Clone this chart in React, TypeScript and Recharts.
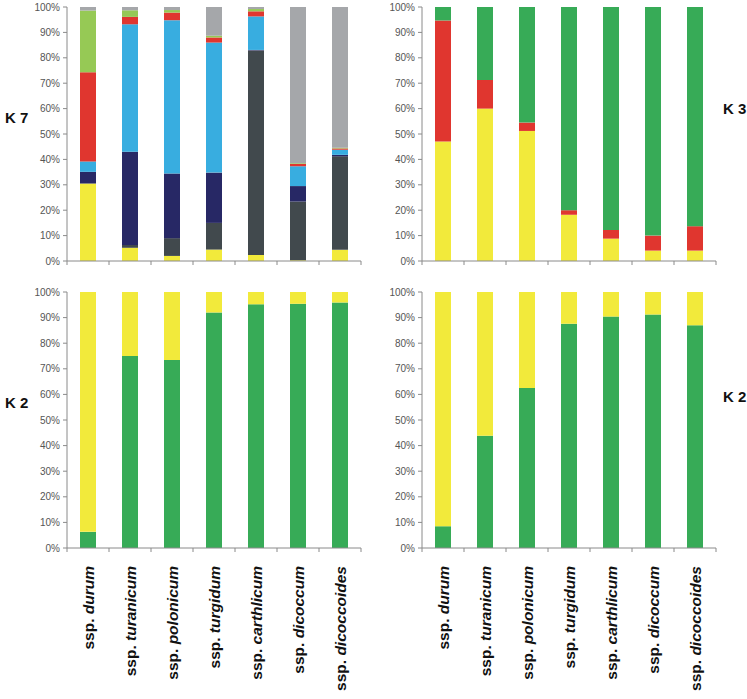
// App.tsx

import { BarChart, Bar, XAxis, YAxis } from "recharts";

const categories = [
  "durum",
  "turanicum",
  "polonicum",
  "turgidum",
  "carthlicum",
  "dicoccum",
  "dicoccoides",
];

const yTicks = [0, 10, 20, 30, 40, 50, 60, 70, 80, 90, 100];

// K 7 segments (share of each bar, bottom to top)
const k7Yellow = [30.5, 5.2, 2.0, 4.5, 2.4, 0.3, 4.4];
const k7Charcoal = [0, 1.1, 7.0, 10.5, 80.5, 23.1, 36.8];
const k7Navy = [4.6, 36.7, 25.4, 19.8, 0.2, 6.1, 0.6];
const k7Blue = [4.1, 50.2, 60.4, 51.2, 13.2, 7.8, 2.0];
const k7Red = [35.1, 2.9, 3.0, 2.0, 2.0, 0.9, 0.5];
const k7Lime = [24.3, 2.6, 1.0, 0.7, 0.9, 0.3, 0.3];
const k7Gray = [1.4, 1.3, 1.2, 11.3, 0.8, 61.5, 55.4];

// K 3
const k3Yellow = [47.0, 60.0, 51.2, 18.2, 8.8, 4.1, 4.1];
const k3Red = [47.7, 11.3, 3.3, 1.8, 3.4, 5.9, 9.6];
const k3Green = [5.3, 28.7, 45.5, 80.0, 87.8, 90.0, 86.3];

// K 2 (left and right)
const k2aGreen = [6.3, 75.0, 73.4, 92.0, 95.2, 95.4, 95.9];
const k2aYellow = [93.7, 25.0, 26.6, 8.0, 4.8, 4.6, 4.1];
const k2bGreen = [8.5, 43.8, 62.5, 87.6, 90.4, 91.2, 87.0];
const k2bYellow = [91.5, 56.2, 37.5, 12.4, 9.6, 8.8, 13.0];

const C = {
  yellow: "#f2ea3b",
  charcoal: "#41494d",
  navy: "#272865",
  blue: "#38ade0",
  red: "#e0362f",
  lime: "#96c955",
  gray: "#a5a7aa",
  green: "#37ab57",
};

const AXIS = "#8a8a8a";
const FONT = "'Liberation Sans', Arial, sans-serif";

type Series = { key: string; values: number[]; color: string };

const k7Series: Series[] = [
  { key: "yellow", values: k7Yellow, color: C.yellow },
  { key: "charcoal", values: k7Charcoal, color: C.charcoal },
  { key: "navy", values: k7Navy, color: C.navy },
  { key: "blue", values: k7Blue, color: C.blue },
  { key: "red", values: k7Red, color: C.red },
  { key: "lime", values: k7Lime, color: C.lime },
  { key: "gray", values: k7Gray, color: C.gray },
];
const k3Series: Series[] = [
  { key: "yellow", values: k3Yellow, color: C.yellow },
  { key: "red", values: k3Red, color: C.red },
  { key: "green", values: k3Green, color: C.green },
];
const k2aSeries: Series[] = [
  { key: "green", values: k2aGreen, color: C.green },
  { key: "yellow", values: k2aYellow, color: C.yellow },
];
const k2bSeries: Series[] = [
  { key: "green", values: k2bGreen, color: C.green },
  { key: "yellow", values: k2bYellow, color: C.yellow },
];

const buildRows = (series: Series[]) =>
  categories.map((name, i) => {
    const row: Record<string, any> = { name };
    series.forEach((s) => (row[s.key] = s.values[i]));
    return row;
  });

const CatTick = ({ x, y, payload, index, band, showLabel }: any) => {
  const left = x - band / 2;
  return (
    <g>
      <line x1={left} y1={y} x2={left} y2={y + 4} stroke={AXIS} />
      {index === categories.length - 1 && (
        <line x1={x + band / 2} y1={y} x2={x + band / 2} y2={y + 4} stroke={AXIS} />
      )}
      {showLabel && (
        <text
          transform={`translate(${x + 6},${y + 18}) rotate(-90)`}
          textAnchor="end"
          fontFamily={FONT}
          fontWeight="bold"
          fontSize={15.5}
          fill="#111"
        >
          ssp. <tspan fontStyle="italic">{payload.value}</tspan>
        </text>
      )}
    </g>
  );
};

interface PanelProps {
  series: Series[];
  left: number;
  top: number;
  width: number;
  height: number;
  yAxisWidth: number;
  margin: { top: number; right: number; bottom: number; left: number };
  xHeight: number;
  plotWidth: number;
  showLabels?: boolean;
}

function Panel({
  series,
  left,
  top,
  width,
  height,
  yAxisWidth,
  margin,
  xHeight,
  plotWidth,
  showLabels,
}: PanelProps) {
  const band = plotWidth / categories.length;
  return (
    <div style={{ position: "absolute", left, top }}>
      <BarChart width={width} height={height} data={buildRows(series)} margin={margin} barSize={16}>
        <XAxis
          dataKey="name"
          interval={0}
          height={xHeight}
          tickSize={0}
          tickMargin={0}
          tickLine={false}
          axisLine={{ stroke: AXIS }}
          tick={<CatTick band={band} showLabel={showLabels} />}
        />
        <YAxis
          width={yAxisWidth}
          domain={[0, 100]}
          ticks={yTicks}
          interval={0}
          tickSize={4}
          tickMargin={3}
          tickFormatter={(v: number) => `${v}%`}
          axisLine={{ stroke: AXIS }}
          tickLine={{ stroke: AXIS }}
          tick={{ fontFamily: FONT, fontSize: 10, fill: "#555" }}
        />
        {series.map((s) => (
          <Bar key={s.key} dataKey={s.key} stackId="a" fill={s.color} isAnimationActive={false} />
        ))}
      </BarChart>
    </div>
  );
}

const kLabel = (text: string, left: number, top: number) => (
  <div
    style={{
      position: "absolute",
      left,
      top,
      fontFamily: FONT,
      fontWeight: "bold",
      fontSize: 15,
      lineHeight: "16px",
      color: "#111",
    }}
  >
    {text}
  </div>
);

export default function App() {
  return (
    <div
      style={{
        position: "absolute",
        left: 0,
        top: 0,
        width: 747,
        height: 699,
        background: "#fff",
        overflow: "hidden",
      }}
    >
      <Panel
        series={k7Series}
        left={0}
        top={0}
        width={370}
        height={270}
        yAxisWidth={67}
        margin={{ top: 7, right: 9, bottom: 0, left: 0 }}
        xHeight={9}
        plotWidth={294}
      />
      <Panel
        series={k3Series}
        left={370}
        top={0}
        width={377}
        height={270}
        yAxisWidth={52}
        margin={{ top: 7, right: 31, bottom: 0, left: 0 }}
        xHeight={9}
        plotWidth={294}
      />
      <Panel
        series={k2aSeries}
        left={0}
        top={270}
        width={370}
        height={429}
        yAxisWidth={67}
        margin={{ top: 22, right: 9, bottom: 0, left: 0 }}
        xHeight={151}
        plotWidth={294}
        showLabels
      />
      <Panel
        series={k2bSeries}
        left={370}
        top={270}
        width={377}
        height={429}
        yAxisWidth={52}
        margin={{ top: 22, right: 31, bottom: 0, left: 0 }}
        xHeight={151}
        plotWidth={294}
        showLabels
      />
      {kLabel("K 7", 5, 110)}
      {kLabel("K 3", 723, 101)}
      {kLabel("K 2", 5, 395)}
      {kLabel("K 2", 723, 389)}
    </div>
  );
}
